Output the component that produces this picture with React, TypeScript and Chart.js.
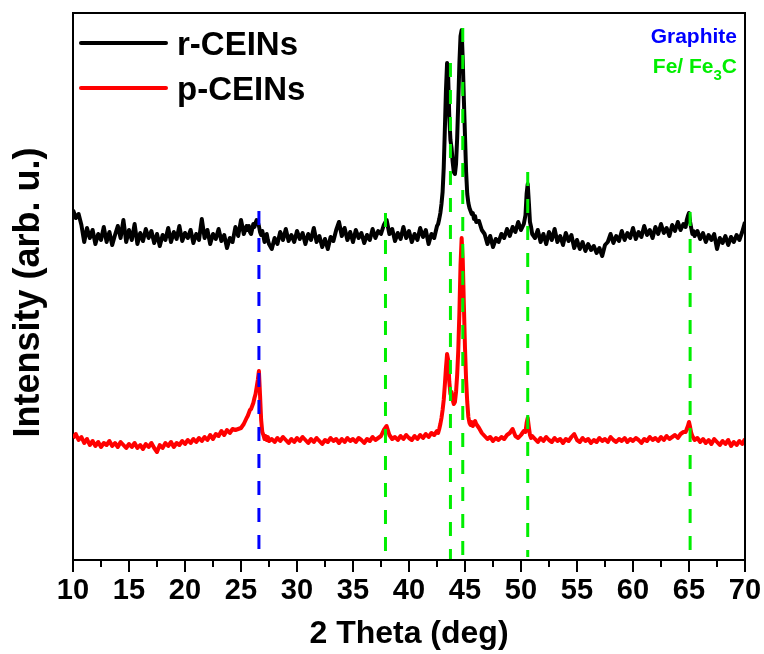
import React, { useEffect, useRef } from "react";
import { Chart, registerables } from "chart.js";

Chart.register(...registerables);

// 2-theta sampling positions (deg)
const thetaDeg = [
  10, 10.25, 10.5, 10.75, 11, 11.25, 11.5, 11.75, 12, 12.25, 12.5, 12.75,
  13, 13.25, 13.5, 13.75, 14, 14.25, 14.5, 14.75, 15, 15.25, 15.5, 15.75,
  16, 16.25, 16.5, 16.75, 17, 17.25, 17.5, 17.75, 18, 18.25, 18.5, 18.75,
  19, 19.25, 19.5, 19.75, 20, 20.25, 20.5, 20.75, 21, 21.25, 21.5, 21.75,
  22, 22.25, 22.5, 22.75, 23, 23.25, 23.5, 23.75, 24, 24.25, 24.5, 24.75,
  25, 25.25, 25.5,
  25.6, 25.7, 25.8, 25.9, 26, 26.1, 26.2, 26.3, 26.4, 26.5, 26.6, 26.7, 26.8, 26.9, 27, 27.1, 27.2, 27.3, 27.4, 27.5,
  27.75,
  28, 28.25, 28.5, 28.75, 29, 29.25, 29.5, 29.75, 30, 30.25, 30.5, 30.75,
  31, 31.25, 31.5, 31.75, 32, 32.25, 32.5, 32.75, 33, 33.25, 33.5, 33.75,
  34, 34.25, 34.5, 34.75, 35, 35.25, 35.5, 35.75, 36, 36.25, 36.5, 36.75,
  37, 37.25, 37.5, 37.75, 38, 38.25, 38.5, 38.75, 39, 39.25, 39.5, 39.75,
  40, 40.25, 40.5, 40.75, 41, 41.25, 41.5, 41.75, 42, 42.25, 42.5,
  42.6, 42.7, 42.8, 42.9,
  43, 43.1, 43.2, 43.3, 43.4, 43.5, 43.6, 43.7, 43.8, 43.9,
  44, 44.1, 44.2, 44.3, 44.4, 44.5, 44.6, 44.7, 44.8, 44.9,
  45, 45.1, 45.2, 45.3, 45.4, 45.5, 45.6, 45.7, 45.8, 45.9,
  46,
  46.25, 46.5, 46.75, 47, 47.25, 47.5, 47.75, 48, 48.25, 48.5, 48.75,
  49, 49.25, 49.5, 49.75, 50, 50.25,
  50.4, 50.5, 50.6, 50.7, 50.8, 50.9, 51,
  51.25, 51.5, 51.75,
  52, 52.25, 52.5, 52.75, 53, 53.25, 53.5, 53.75, 54, 54.25, 54.5, 54.75,
  55, 55.25, 55.5, 55.75, 56, 56.25, 56.5, 56.75, 57, 57.25, 57.5, 57.75,
  58, 58.25, 58.5, 58.75, 59, 59.25, 59.5, 59.75, 60, 60.25, 60.5, 60.75,
  61, 61.25, 61.5, 61.75, 62, 62.25, 62.5, 62.75, 63, 63.25, 63.5, 63.75,
  64, 64.25, 64.5,
  64.7, 64.8, 64.9, 65, 65.1, 65.2, 65.3, 65.4,
  65.5, 65.75, 66, 66.25, 66.5, 66.75, 67, 67.25, 67.5, 67.75,
  68, 68.25, 68.5, 68.75, 69, 69.25, 69.5, 69.75, 70,
];

// r-CEINs intensity (arb. u., offset trace)
const rCEINs = [
  350, 342, 346, 335, 318, 332, 322, 330, 316, 326, 320, 333,
  318, 328, 315, 325, 334, 322, 340, 318, 330, 320, 336, 316,
  327, 319, 331, 322, 329, 317, 326, 314, 325, 320, 332, 318,
  328, 321, 334, 319, 327, 322, 330, 317, 326, 320, 341, 322,
  330, 316, 326, 321, 331, 319, 325, 312, 322, 318, 333, 324,
  340, 326, 334,
  330, 334, 328, 326, 331, 336, 333, 337, 340, 338, 334, 328, 325, 329, 324, 318, 321, 326, 320, 316,
  311,
  322, 316, 328, 320, 331, 319, 325, 318, 329, 321, 327, 316,
  326, 320, 332, 318, 324, 313, 321, 311, 323, 319, 330, 338,
  324, 332, 320, 328, 318, 330, 322, 327, 317, 325, 320, 331,
  322, 329, 326, 335, 340, 326, 331, 319, 327, 321, 333, 322,
  329, 318, 326, 320, 332, 323, 330, 316, 326, 322, 334,
  336, 341, 347, 356,
  368, 392, 430, 470, 497, 482, 442, 420, 412, 398,
  388, 386, 396, 422, 458, 497, 524, 530, 500, 460,
  424, 388, 366, 357, 352, 349, 346, 347, 341, 344,
  338,
  339, 330, 326, 316, 324, 313, 321, 318, 326, 322, 331,
  324, 333, 328, 338, 330, 336,
  345, 366, 376, 358, 338, 333, 326,
  322, 330, 318,
  326, 316, 328, 320, 331, 318, 324, 315, 327, 319, 325, 312,
  320, 311, 318, 309, 316, 310, 314, 307, 312, 304, 315, 318,
  326, 317, 324, 319, 329, 320, 327, 322, 332, 321, 328, 323,
  334, 325, 330, 322, 333, 326, 336, 327, 332, 324, 335, 329,
  338, 330, 336,
  333, 340, 344, 347, 338, 332, 326, 329,
  324, 329, 321, 327, 318, 325, 320, 326, 311, 322,
  317, 324, 315, 323, 318, 325, 320, 328, 338,
];

// p-CEINs intensity (arb. u.)
const pCEINs = [
  122, 126, 120, 123, 117, 121, 115, 119, 114, 118, 113, 117,
  115, 119, 114, 117, 113, 118, 115, 112, 116, 113, 117, 112,
  115, 111, 116, 113, 117, 112, 108, 115, 112, 117, 114, 118,
  113, 117, 115, 119, 116, 120, 117, 121, 118, 122, 119, 123,
  120, 125, 121, 126, 124, 129, 125, 130, 127, 131, 130, 131,
  132, 136, 142,
  144, 147, 150, 151, 154, 157, 162, 166, 173, 180, 189, 165, 140, 128, 125, 121, 124, 120, 123, 119,
  121,
  118, 122, 119, 123, 120, 117, 121, 118, 122, 119, 123, 120,
  117, 121, 118, 122, 119, 116, 120, 118, 122, 119, 121, 117,
  121, 118, 122, 119, 121, 118, 122, 120, 117, 121, 119, 123,
  120, 122, 124, 130, 134, 125, 121, 123, 120, 124, 121, 125,
  122, 120, 124, 121, 125, 122, 126, 123, 127, 125, 129,
  127, 131, 136, 142,
  150, 160, 175, 192, 206, 200, 178, 166, 168, 160,
  156, 158, 168, 185, 210, 248, 295, 322, 300, 255,
  212, 180, 158, 143, 137, 135, 138, 134, 137, 139,
  136,
  132, 127, 124, 121, 123, 119, 122, 120, 123, 121, 125,
  127, 131, 124, 122, 125, 129,
  128, 137, 142, 133, 125, 122, 124,
  121, 118, 122,
  119, 123, 120, 118, 122, 119, 121, 117, 121, 119, 123, 126,
  120, 118, 122, 119, 121, 117, 120, 118, 122, 119, 121, 118,
  123, 120, 118, 121, 119, 122, 118, 121, 119, 122, 120, 117,
  121, 119, 123, 120, 122, 119, 123, 120, 124, 121, 123, 125,
  122, 126, 128,
  128, 131, 134, 138, 133, 127, 124, 122,
  120, 122, 118, 121, 117, 120, 116, 121, 118, 115,
  119, 116, 120, 114, 118, 115, 119, 116, 121,
];

// reference peak markers (2-theta) and their vertical extent (arb. u.)
const markerPhase = ["Graphite", "Fe", "Fe", "Fe", "Fe", "Fe"];
const markerTheta = [26.6, 37.9, 43.7, 44.8, 50.6, 65.1];
const markerTop = [349, 347, 497, 532, 388, 348];
const markerBottom = [8, 8, 1, 3, 3, 9];

const xMajorTicks = [10, 15, 20, 25, 30, 35, 40, 45, 50, 55, 60, 65, 70];
const xMinorTicks = [12.5, 17.5, 22.5, 27.5, 32.5, 37.5, 42.5, 47.5, 52.5, 57.5, 62.5, 67.5];

const seriesNames = ["r-CEINs", "p-CEINs"];
const xTitle = "2 Theta (deg)";
const yTitle = "Intensity (arb. u.)";

const FONT = '"Liberation Sans", Arial, Helvetica, sans-serif';
const BLUE = "#0000ff";
const GREEN = "#00ee00";
const seriesColors = ["#000000", "#ff0000"];

const overlayPlugin = {
  id: "overlay",
  afterDraw(chart: any) {
    const { ctx, chartArea: a, scales } = chart;
    const x = scales.x;
    ctx.save();
    // top & right frame
    ctx.strokeStyle = "#000";
    ctx.lineWidth = 2;
    ctx.beginPath();
    ctx.moveTo(a.left - 1, a.top);
    ctx.lineTo(a.right, a.top);
    ctx.lineTo(a.right, a.bottom + 1);
    ctx.stroke();
    // minor ticks
    ctx.beginPath();
    for (const v of xMinorTicks) {
      const px = Math.round(x.getPixelForValue(v));
      ctx.moveTo(px, a.bottom);
      ctx.lineTo(px, a.bottom + 7);
    }
    ctx.stroke();

    // y-axis title
    ctx.save();
    ctx.translate(29, (a.top + a.bottom) / 2 + 6);
    ctx.rotate(-Math.PI / 2);
    ctx.font = `bold 36px ${FONT}`;
    ctx.fillStyle = "#000";
    ctx.textAlign = "center";
    ctx.textBaseline = "middle";
    ctx.fillText(yTitle, 0, 0);
    ctx.restore();

    // series legend
    const legY = [43, 88];
    const baseY = [55, 100];
    ctx.lineWidth = 4;
    ctx.lineCap = "round";
    seriesNames.forEach((name, i) => {
      ctx.strokeStyle = seriesColors[i];
      ctx.beginPath();
      ctx.moveTo(81, legY[i]);
      ctx.lineTo(166, legY[i]);
      ctx.stroke();
      ctx.fillStyle = "#000";
      ctx.font = `bold 33px ${FONT}`;
      ctx.textAlign = "left";
      ctx.textBaseline = "alphabetic";
      ctx.fillText(name, 177, baseY[i]);
    });

    // phase legend (top right)
    const rightX = 737;
    ctx.textAlign = "right";
    ctx.textBaseline = "alphabetic";
    ctx.font = `bold 21px ${FONT}`;
    ctx.fillStyle = BLUE;
    ctx.fillText("Graphite", rightX, 43);

    ctx.fillStyle = GREEN;
    ctx.textAlign = "left";
    const big = `bold 21px ${FONT}`;
    const small = `bold 15px ${FONT}`;
    ctx.font = big;
    const w1 = ctx.measureText("Fe/ Fe").width;
    const wC = ctx.measureText("C").width;
    ctx.font = small;
    const w3 = ctx.measureText("3").width;
    const startX = rightX - (w1 + w3 + wC);
    ctx.font = big;
    ctx.fillText("Fe/ Fe", startX, 73);
    ctx.font = small;
    ctx.fillText("3", startX + w1, 80);
    ctx.font = big;
    ctx.fillText("C", startX + w1 + w3, 73);
    ctx.restore();
  },
};

export default function App() {
  const canvasRef = useRef<HTMLCanvasElement | null>(null);

  useEffect(() => {
    const canvas = canvasRef.current;
    if (!canvas) return;

    const markerSets = markerTheta.map((t, i) => ({
      label: markerPhase[i],
      data: [
        { x: t, y: markerTop[i] },
        { x: t, y: markerBottom[i] },
      ],
      borderColor: markerPhase[i] === "Graphite" ? BLUE : GREEN,
      borderWidth: 3,
      borderDash: [14, 13],
      pointRadius: 0,
      fill: false,
      order: -1,
    }));

    const seriesSets = [rCEINs, pCEINs].map((vals, s) => ({
      label: seriesNames[s],
      data: thetaDeg.map((t, i) => ({ x: t, y: vals[i] })),
      borderColor: seriesColors[s],
      borderWidth: 4,
      borderJoinStyle: "round" as const,
      pointRadius: 0,
      fill: false,
      tension: 0,
      order: s === 0 ? 2 : 1,
    }));

    const chart = new Chart(canvas, {
      type: "line",
      data: { datasets: [...seriesSets, ...markerSets] as any },
      options: {
        responsive: false,
        animation: false,
        devicePixelRatio: 1,
        layout: { padding: { top: 13, right: 19, left: 0, bottom: 0 } },
        plugins: {
          legend: { display: false },
          tooltip: { enabled: false },
        },
        scales: {
          x: {
            type: "linear",
            min: 10,
            max: 70,
            afterBuildTicks: (scale: any) => {
              scale.ticks = xMajorTicks.map((v) => ({ value: v }));
            },
            ticks: {
              color: "#000",
              font: { family: FONT, size: 29, weight: "bold" },
              padding: 2,
              maxRotation: 0,
              autoSkip: false,
            },
            grid: {
              display: true,
              drawOnChartArea: false,
              drawTicks: true,
              tickLength: 12,
              color: "#000",
              lineWidth: 2,
            },
            border: { display: true, color: "#000", width: 2 },
            title: {
              display: true,
              text: xTitle,
              color: "#000",
              font: { family: FONT, size: 32, weight: "bold" },
              padding: { top: 0, bottom: 1 },
            },
            afterFit: (scale: any) => {
              scale.height = 94;
            },
          },
          y: {
            type: "linear",
            min: 0,
            max: 547,
            ticks: { display: false },
            grid: { display: false },
            border: { display: true, color: "#000", width: 2 },
            title: { display: false },
            afterFit: (scale: any) => {
              scale.width = 73;
            },
          },
        },
      } as any,
      plugins: [overlayPlugin],
    });

    return () => chart.destroy();
  }, []);

  return (
    <div style={{ position: "absolute", left: 0, top: 0, width: 764, height: 654, background: "#fff" }}>
      <canvas ref={canvasRef} width={764} height={654} style={{ width: 764, height: 654, display: "block" }} />
    </div>
  );
}
